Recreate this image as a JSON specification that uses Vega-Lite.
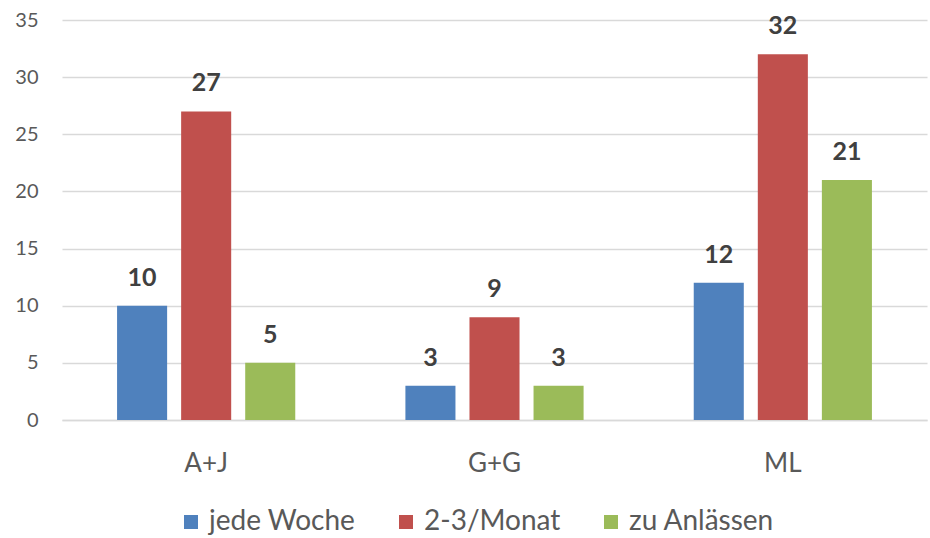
{
  "$schema": "https://vega.github.io/schema/vega-lite/v6.json",
  "width": 865,
  "height": 400,
  "autosize": {"type": "none"},
  "padding": {"left": 62, "top": 20, "right": 3, "bottom": 118},
  "background": "white",
  "config": {
    "font": "Lato",
    "view": {"stroke": null}
  },
  "data": {
    "values": [
      {"group": "A+J", "series": "jede Woche", "value": 10},
      {"group": "A+J", "series": "2-3/Monat", "value": 27},
      {"group": "A+J", "series": "zu Anlässen", "value": 5},
      {"group": "G+G", "series": "jede Woche", "value": 3},
      {"group": "G+G", "series": "2-3/Monat", "value": 9},
      {"group": "G+G", "series": "zu Anlässen", "value": 3},
      {"group": "ML", "series": "jede Woche", "value": 12},
      {"group": "ML", "series": "2-3/Monat", "value": 32},
      {"group": "ML", "series": "zu Anlässen", "value": 21}
    ]
  },
  "encoding": {
    "x": {
      "field": "group", "type": "nominal", "sort": null, "title": null,
      "scale": {"paddingInner": 0.382, "paddingOuter": 0.191},
      "axis": {"labelAngle": 0, "ticks": false, "domain": true, "domainColor": "#D9D9D9", "domainWidth": 1.5,
               "labelFontSize": 26, "labelColor": "#595959", "labelPadding": 30, "grid": false}
    },
    "xOffset": {
      "field": "series", "type": "nominal", "sort": ["jede Woche", "2-3/Monat", "zu Anlässen"],
      "scale": {"paddingInner": 0.21875, "paddingOuter": 0}
    },
    "y": {
      "field": "value", "type": "quantitative", "title": null,
      "scale": {"domain": [0, 35], "nice": false},
      "axis": {"values": [0, 5, 10, 15, 20, 25, 30, 35], "ticks": false, "domain": false,
               "gridColor": "#D9D9D9", "gridWidth": 1.5, "labelFontSize": 20, "labelColor": "#595959", "labelPadding": 24}
    }
  },
  "layer": [
    {
      "mark": {"type": "bar"},
      "encoding": {
        "color": {
          "field": "series", "type": "nominal",
          "sort": ["jede Woche", "2-3/Monat", "zu Anlässen"],
          "scale": {"domain": ["jede Woche", "2-3/Monat", "zu Anlässen"], "range": ["#4F81BD", "#C0504D", "#9BBB59"]},
          "legend": {
            "title": null, "orient": "none", "direction": "horizontal",
            "legendX": 115, "legendY": 488,
            "symbolType": "square", "symbolSize": 196, "symbolStrokeWidth": 0,
            "labelFontSize": 28, "labelColor": "#595959", "labelOffset": 4,
            "columnPadding": 36
          }
        }
      }
    },
    {
      "mark": {"type": "text", "baseline": "alphabetic", "dy": -20, "fontSize": 25, "fontWeight": "bold", "color": "#404040"},
      "encoding": {
        "text": {"field": "value", "type": "quantitative"}
      }
    }
  ]
}
